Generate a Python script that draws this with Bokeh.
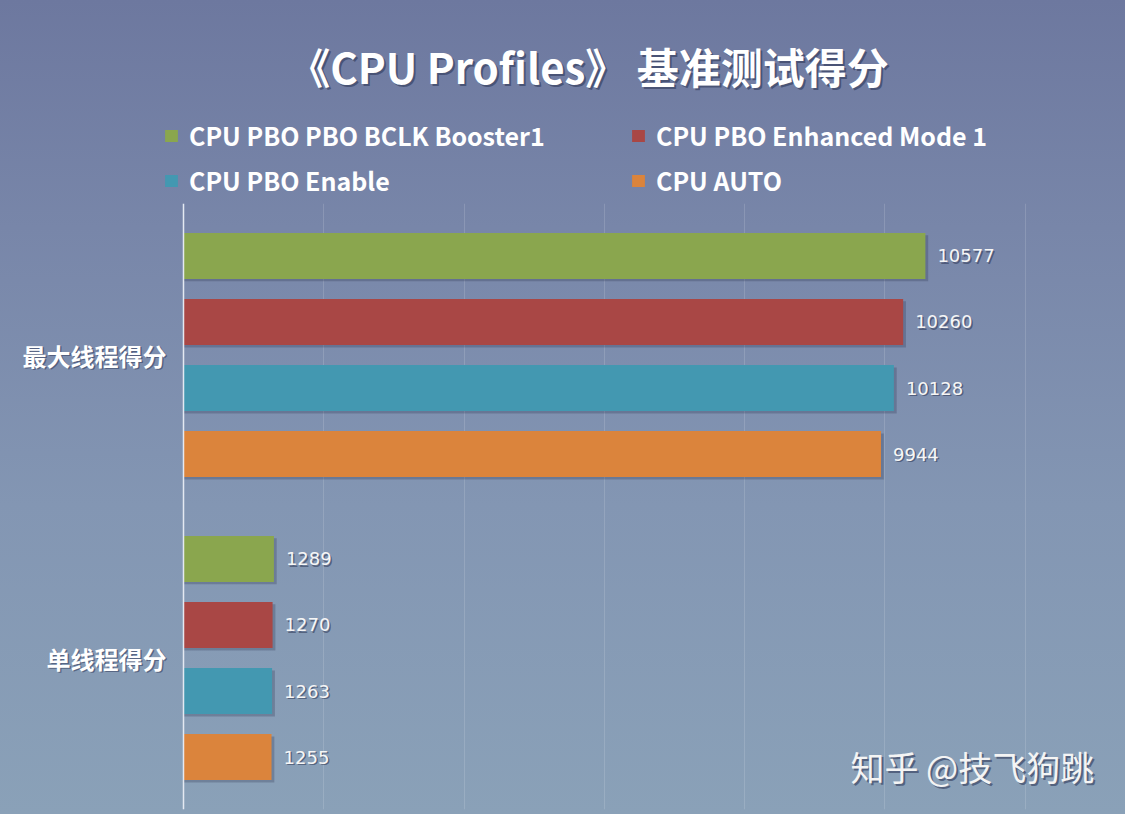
from bokeh.plotting import figure
from bokeh.layouts import column
from bokeh.models import (FactorRange, Range1d, ColumnDataSource, Label, Legend, LegendItem,
                          SingleIntervalTicker, GlobalInlineStyleSheet, Span)
from bokeh.transform import dodge
from bokeh.core.properties import value
from bokeh.embed import file_html
from bokeh.resources import INLINE

# ---- data ----
title_text = "《CPU Profiles》 基准测试得分"
groups = ["最大线程得分", "单线程得分"]
series = ["CPU PBO PBO BCLK Booster1", "CPU PBO Enhanced Mode 1", "CPU PBO Enable", "CPU AUTO"]
colors = ["#8aa64e", "#a94745", "#4398b1", "#db843c"]
multi_thread = [10577, 10260, 10128, 9944]
single_thread = [1289, 1270, 1263, 1255]
x_tick_step = 2000
x_tick_max = 12000
x_view_start, x_view_end = -2609, 13430
watermark = "知乎 @技飞狗跳"

CJK = "Noto Sans CJK SC"
W = 1125
H_TOP = 203
H_MAIN = 611
SHADOW = "#2f3858"

page_css = GlobalInlineStyleSheet(css=
    "html{background:linear-gradient(to bottom,#6d789f 0%,#7886a9 28%,#8396b3 62%,#8aa1b8 100%);min-height:100%;}"
    "body{background:transparent;}")

sources = []
for i in range(len(series)):
    vals = [multi_thread[i], single_thread[i]]
    sources.append(ColumnDataSource(dict(group=groups, value=vals, label=[str(v) for v in vals])))

# ---- header: title + legend ----
top = figure(width=W, height=H_TOP, output_backend="svg", toolbar_location=None,
             x_range=Range1d(0, 1), y_range=Range1d(0, 1),
             x_axis_type=None, y_axis_type=None,
             min_border_left=0, min_border_right=0, min_border_top=0, min_border_bottom=0)
top.title.visible = False
top.background_fill_color = None
top.border_fill_color = None
top.outline_line_color = None
top.stylesheets = [page_css]

items = []
for s, c, src in zip(series, colors, sources):
    # legend proxy: degenerate bars (zero size) that only lend their colour to the legend
    proxy = top.hbar(y="value", left="value", right="value", height=0, source=src,
                     fill_color=c, line_color=None)
    items.append(LegendItem(label=s, renderers=[proxy]))

legend = Legend(items=items, location=(163, 5), orientation="horizontal", ncols=2,
                glyph_width=16, glyph_height=15, label_standoff=10, label_width=432,
                label_height=30, spacing=9, padding=0, margin=0,
                background_fill_alpha=0, border_line_color=None,
                label_text_font=CJK, label_text_font_size="25px", label_text_font_style="bold",
                label_text_color="#ffffff")
top.add_layout(legend)

for dx, dy, col, a in [(2, -2, SHADOW, 0.6), (0, 0, "#ffffff", 1.0)]:
    top.add_layout(Label(x=588 + dx, y=138 + dy, x_units="screen", y_units="screen", text=title_text,
                         text_align="center", text_baseline="middle", text_font=CJK,
                         text_font_size="42px", text_font_style="bold", text_color=col, text_alpha=a))

# ---- main bar chart ----
p = figure(width=W, height=H_MAIN, output_backend="svg", toolbar_location=None,
           y_range=FactorRange(factors=list(reversed(groups)), range_padding=0),
           x_range=Range1d(x_view_start, x_view_end),
           min_border_left=0, min_border_right=0, min_border_top=0, min_border_bottom=5)
p.title.visible = False
p.background_fill_color = None
p.border_fill_color = None
p.outline_line_color = None

p.xaxis.visible = False
p.yaxis.visible = False
p.xgrid.ticker = SingleIntervalTicker(interval=x_tick_step)
p.xgrid.bounds = (0, x_tick_max)
p.xgrid.grid_line_color = "#ffffff"
p.xgrid.grid_line_alpha = 0.14
p.xgrid.grid_line_width = 1
p.ygrid.visible = False

# value axis base line
p.add_layout(Span(location=0, dimension="height", line_color="#e4e9f2", line_width=1.5))

# category labels
cat_src = ColumnDataSource(dict(group=groups))
for dx, dy, col, a in [(1.5, -1.5, SHADOW, 0.55), (0, 0, "#ffffff", 1.0)]:
    p.text(x=0, y="group", text="group", source=cat_src, x_offset=-17 + dx, y_offset=-dy,
           text_align="right", text_baseline="middle", text_font=value(CJK),
           text_font_size="24px", text_font_style="bold", text_color=col, text_alpha=a)

n = len(series)
step = 0.218
bar_h = 0.152
for i, src in enumerate(sources):
    off = (n - 1) / 2 * step - i * step
    # soft drop shadow
    p.hbar(y=dodge("group", off - 0.008, range=p.y_range), right=dodge("value", 40), left=0,
           height=bar_h, source=src, fill_color="#2a3350", fill_alpha=0.28, line_color=None)
    p.hbar(y=dodge("group", off, range=p.y_range), right="value", left=0,
           height=bar_h, source=src, fill_color=colors[i], line_color=None)
    p.text(x="value", y=dodge("group", off, range=p.y_range), text="label", source=src,
           x_offset=13.5, y_offset=1.5, text_baseline="middle", text_align="left",
           text_font=value("DejaVu Sans"), text_font_size="18px", text_color="#2a3350", text_alpha=0.55)
    p.text(x="value", y=dodge("group", off, range=p.y_range), text="label", source=src,
           x_offset=12, text_baseline="middle", text_align="left",
           text_font=value("DejaVu Sans"), text_font_size="18px", text_color="#f6f6f6")

for dx, dy, col, a in [(2, -2, SHADOW, 0.6), (0, 0, "#f4f4f4", 1.0)]:
    p.add_layout(Label(x=850 + dx, y=43 + dy, x_units="screen", y_units="screen", text=watermark,
                       text_align="left", text_baseline="middle", text_font=CJK,
                       text_font_size="34px", text_color=col, text_alpha=a))

layout = column(top, p, spacing=0)
open("out.html", "w").write(file_html(layout, INLINE))
